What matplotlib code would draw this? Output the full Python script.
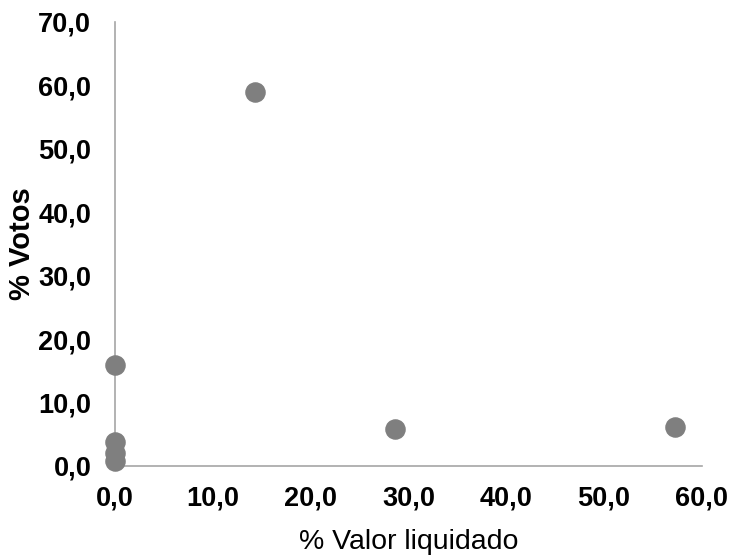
import matplotlib.pyplot as plt
from matplotlib.ticker import FuncFormatter

# datos
valor_liquidado = [14.3, 0.0, 0.0, 0.0, 0.0, 28.6, 57.2]
votos = [59.0, 15.9, 3.8, 2.0, 0.7, 5.8, 6.2]

plt.rcParams['font.family'] = ['Liberation Sans', 'DejaVu Sans']

fig = plt.figure(figsize=(7.3, 5.58), dpi=100)
ax = fig.add_axes([0.1575, 0.165, 0.804, 0.796])

ax.scatter(valor_liquidado, votos, s=190, color='#7f7f7f', zorder=3, clip_on=False)

ax.set_xlim(0, 60)
ax.set_ylim(0, 70)
ax.set_xticks(range(0, 61, 10))
ax.set_yticks(range(0, 71, 10))
fmt = FuncFormatter(lambda v, p: f"{v:.1f}".replace('.', ','))
ax.xaxis.set_major_formatter(fmt)
ax.yaxis.set_major_formatter(fmt)

for lbl in ax.get_xticklabels() + ax.get_yticklabels():
    lbl.set_fontsize(19.5)
    lbl.set_fontweight('bold')
ax.tick_params(axis='y', length=0, pad=17)
ax.tick_params(axis='x', length=0, pad=14)

for s in ['top', 'right']:
    ax.spines[s].set_visible(False)
for s in ['left', 'bottom']:
    ax.spines[s].set_color('#a6a6a6')
    ax.spines[s].set_linewidth(1.2)

ax.set_xlabel('% Valor liquidado', fontsize=20.5, labelpad=13)
ax.set_ylabel('% Votos', fontsize=21, fontweight='bold', labelpad=2)

fig.savefig('out.png', dpi=100)
